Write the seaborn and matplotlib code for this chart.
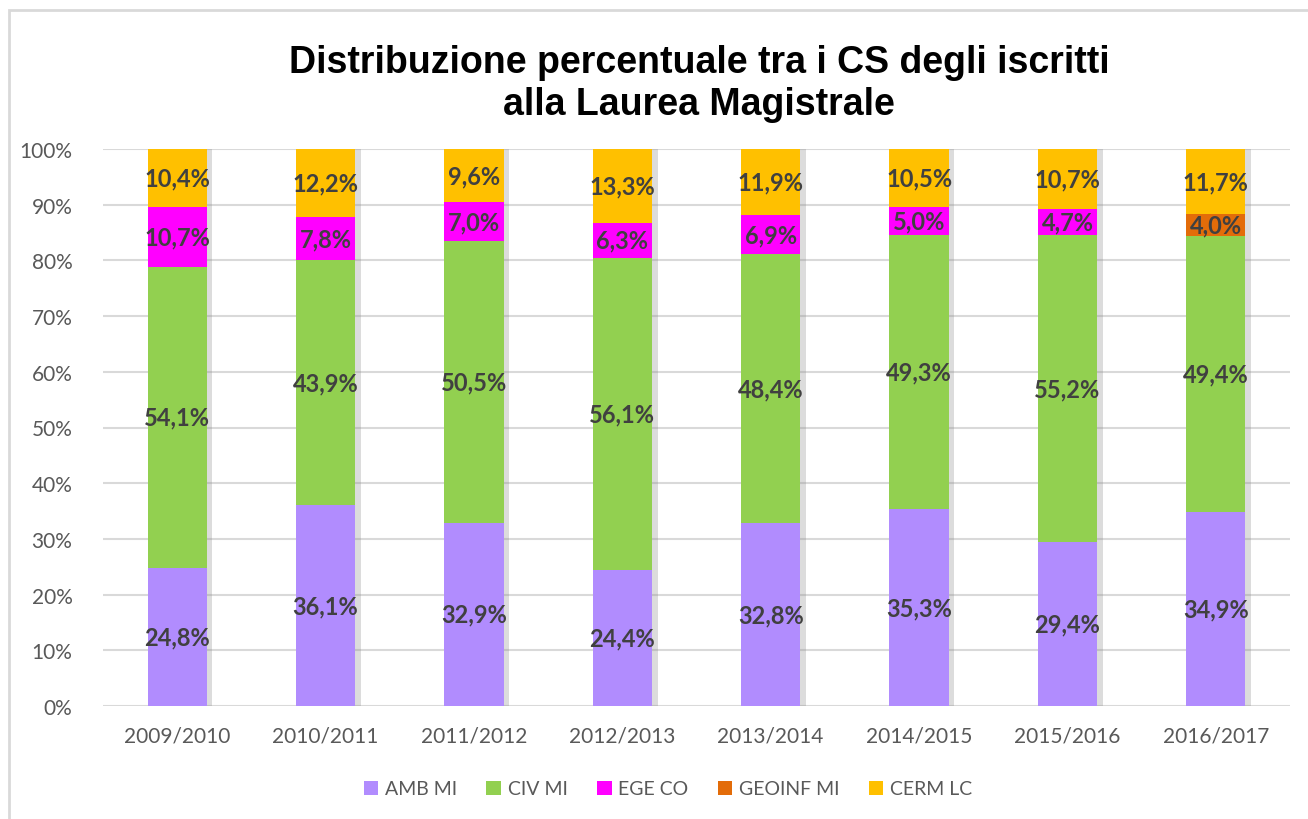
import matplotlib
matplotlib.use("Agg")
import matplotlib.pyplot as plt
import matplotlib.patheffects as pe
from matplotlib.patches import Rectangle, Patch
import seaborn as sns
import numpy as np

# Anni accademici e quote percentuali per corso di studio
years = ['2009/2010', '2010/2011', '2011/2012', '2012/2013',
         '2013/2014', '2014/2015', '2015/2016', '2016/2017']
amb_mi = [24.8, 36.1, 32.9, 24.4, 32.8, 35.3, 29.4, 34.9]
civ_mi = [54.1, 43.9, 50.5, 56.1, 48.4, 49.3, 55.2, 49.4]
ege_co = [10.7, 7.8, 7.0, 6.3, 6.9, 5.0, 4.7, 0.0]
geoinf_mi = [0.0, 0.0, 0.0, 0.0, 0.0, 0.0, 0.0, 4.0]
cerm_lc = [10.4, 12.2, 9.6, 13.3, 11.9, 10.5, 10.7, 11.7]

series_names = ['AMB MI', 'CIV MI', 'EGE CO', 'GEOINF MI', 'CERM LC']
series_vals = [amb_mi, civ_mi, ege_co, geoinf_mi, cerm_lc]
colors = ['#B18CFE', '#92D050', '#FF00FF', '#E36C09', '#FFC000']

sns.set_style('white')
plt.rcParams['font.family'] = ['Lato', 'DejaVu Sans']

fig = plt.figure(figsize=(13.08, 8.2), dpi=100)
ax = fig.add_axes([103 / 1308, 1 - 707 / 820, 1187 / 1308, 557 / 820])

# cornice del grafico
fig.patches.append(Rectangle((9 / 1308, -0.1), 1.2, 1 - 11 / 820 + 0.1,
                             transform=fig.transFigure, fill=False,
                             edgecolor='#D9D9D9', linewidth=2, zorder=0))

shadow = [pe.SimplePatchShadow(offset=(4, 0), shadow_rgbFace='#8C8C8C', alpha=0.3),
          pe.Normal()]

bottom = np.zeros(len(years))
for name, vals, col in zip(series_names, series_vals, colors):
    vals = np.array(vals)
    sns.barplot(x=years, y=vals, bottom=bottom, color=col, saturation=1,
                width=0.4, ax=ax, linewidth=0, zorder=3)
    for i, v in enumerate(vals):
        if v > 0:
            ax.text(i, bottom[i] + v / 2, f'{v:.1f}%'.replace('.', ','),
                    ha='center', va='center', fontsize=17, fontweight='bold',
                    color='#404040', zorder=5)
    bottom = bottom + vals

for p in ax.patches:
    p.set_path_effects(shadow)

ax.set_ylim(0, 100)
ax.set_xlim(-0.5, len(years) - 0.5)
ax.set_yticks(np.arange(0, 101, 10))
ax.set_yticklabels([f'{t}%' for t in range(0, 101, 10)])
ax.yaxis.grid(True, color='#D9D9D9', linewidth=1.5, zorder=0)
ax.set_axisbelow(True)
sns.despine(ax=ax, left=True, bottom=True)
ax.axhline(0, color='#D9D9D9', linewidth=2, zorder=1)
ax.tick_params(axis='x', length=0, labelsize=15, colors='#595959', pad=14)
ax.tick_params(axis='y', length=0, labelsize=15, colors='#595959', pad=22)

fig.suptitle('Distribuzione percentuale tra i CS degli iscritti\nalla Laurea Magistrale',
             x=699 / 1308, y=1 - 45 / 820, fontsize=27, fontweight='bold',
             family='Liberation Sans', color='black', linespacing=1.2, va='top')

handles = [Patch(facecolor=c, edgecolor='none') for c in colors]
fig.legend(handles, series_names, loc='center', bbox_to_anchor=(668 / 1308, 1 - 790 / 820),
           ncol=5, frameon=False, fontsize=14, handlelength=0.75, handleheight=0.75,
           handletextpad=0.35, columnspacing=1.5, labelcolor='#595959')

fig.savefig('out.png', dpi=100)
